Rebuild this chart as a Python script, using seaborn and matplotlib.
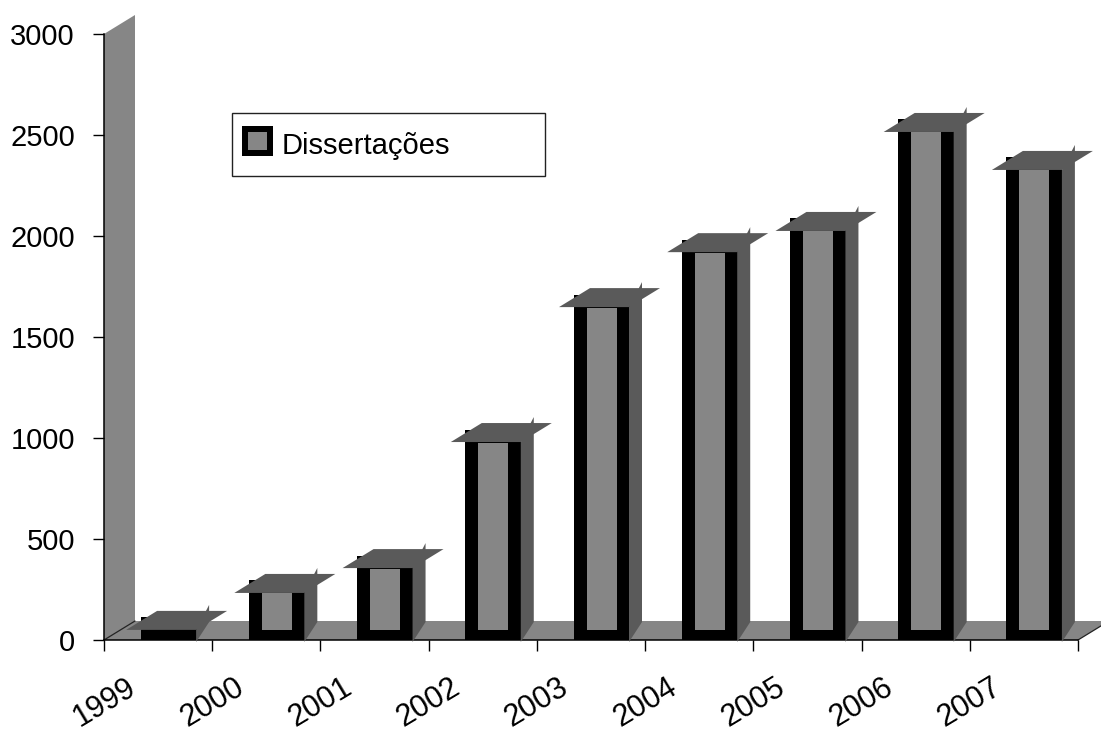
import numpy as np
import pandas as pd
import matplotlib
matplotlib.use("Agg")
import matplotlib.pyplot as plt
import seaborn as sns
from matplotlib.patches import Polygon, Rectangle
from matplotlib.lines import Line2D

# Data
years = ["1999", "2000", "2001", "2002", "2003", "2004", "2005", "2006", "2007"]
dissertacoes = [50, 233, 356, 980, 1648, 1920, 2025, 2515, 2327]
y_ticks = [0, 500, 1000, 1500, 2000, 2500, 3000]
legend_label = "Dissertações"

sns.set_theme(style="white")
plt.rcParams["font.family"] = ["Liberation Sans", "DejaVu Sans"]

W, H, DPI = 1101, 731, 100
PX = 72.0 / DPI  # points per pixel

FACE = "#868686"
DARK = "#5a5a5a"

fig = plt.figure(figsize=(W / DPI, H / DPI), dpi=DPI)
fig.patch.set_facecolor("white")
ax = fig.add_axes([104 / W, (H - 640) / H, 974 / W, 606 / H])
ax.set_facecolor("none")

df = pd.DataFrame({"ano": years, "valor": dissertacoes})
slot_px = 974 / len(years)
sns.barplot(data=df, x="ano", y="valor", ax=ax, color=FACE, saturation=1,
            width=43 / slot_px, edgecolor="black", linewidth=13 * PX, zorder=2)

ax.set_xlim(-0.5, len(years) - 0.5)
ax.set_ylim(0, 3000)

to_disp = ax.transData.transform
to_data = ax.transData.inverted().transform
depth = np.array([31.0, 19.0])   # receding direction of the 3D box, in pixels
units_per_px = 3000 / 606


def add_poly(pts_disp, **kw):
    pts = to_data(np.asarray(pts_disp, dtype=float))
    ax.add_patch(Polygon(pts, closed=True, clip_on=False, **kw))


# Floor and side wall
o = to_disp((-0.5, 0))
e = to_disp((len(years) - 0.5, 0))
t = to_disp((-0.5, 3000))
add_poly([o, e, e + depth, o + depth], facecolor=FACE, edgecolor="none", zorder=0.5)
add_poly([o, t, t + depth, o + depth], facecolor=FACE, edgecolor="none", zorder=0.5)
for a in (o, e):
    seg = to_data(np.array([a, a + depth]))
    ax.add_line(Line2D(seg[:, 0], seg[:, 1], color="#222222", lw=0.9, clip_on=False, zorder=0.6))

# 3D columns: the grey face spans from the floor up to the value,
# the thick black frame surrounds it; add side faces and caps
shift = 10 / slot_px
half = 6.5
lift = 4 * units_per_px
for bar, v in zip(ax.containers[0], dissertacoes):
    bar.set_x(bar.get_x() + shift)
    bar.set_y(lift)
    bar.set_height(v - lift + half * units_per_px)
    x0 = bar.get_x()
    x1 = x0 + bar.get_width()
    xlo = to_disp((x0, 0))[0] - half
    xro = to_disp((x1, 0))[0] + half
    ytop = to_disp((0, v))[1]
    ybot = to_disp((0, 0))[1] - 2
    add_poly([(xro, ybot), (xro + 13, ybot + 20), (xro + 13, ytop + 25), (xro, ytop)],
             facecolor=DARK, edgecolor="none", zorder=3)
    add_poly([(xlo - 14, ytop), (xro, ytop), (xro + depth[0], ytop + depth[1]),
              (xlo - 14 + depth[0], ytop + depth[1])],
             facecolor=DARK, edgecolor="none", zorder=3.1)

# Axes styling
for side in ("top", "right"):
    ax.spines[side].set_visible(False)
for side in ("left", "bottom"):
    ax.spines[side].set_color("black")
    ax.spines[side].set_linewidth(1.1)
    ax.spines[side].set_zorder(2.5)

ax.set_yticks(y_ticks)
ax.set_yticklabels([str(v) for v in y_ticks])
ax.tick_params(axis="y", left=True, direction="out", length=11 * PX, width=1,
               color="black", pad=13, labelsize=21, labelcolor="black")

ax.set_xticks(np.arange(-0.5, len(years), 1.0))
ax.set_xticklabels(years + [""], rotation=31, ha="center", va="center",
                   rotation_mode="anchor")
ax.tick_params(axis="x", bottom=True, direction="out", length=11 * PX, width=1,
               color="black", pad=37, labelsize=22, labelcolor="black")
ax.set_xlim(-0.5, len(years) - 0.5)
ax.set_xlabel("")
ax.set_ylabel("")


# Legend box
def fpt(x, y):
    return (x / W, 1 - y / H)


fig.add_artist(Rectangle(fpt(232, 176), 313 / W, 63 / H, transform=fig.transFigure,
                         facecolor="white", edgecolor="#222222", lw=1.0))
fig.add_artist(Rectangle(fpt(245, 153), 25 / W, 24 / H, transform=fig.transFigure,
                         facecolor=FACE, edgecolor="black", lw=6 * PX, joinstyle="miter"))
fig.text(282 / W, 1 - 154 / H, legend_label, fontsize=21, ha="left", va="baseline",
         color="black")

fig.savefig("out.png", dpi=DPI)
